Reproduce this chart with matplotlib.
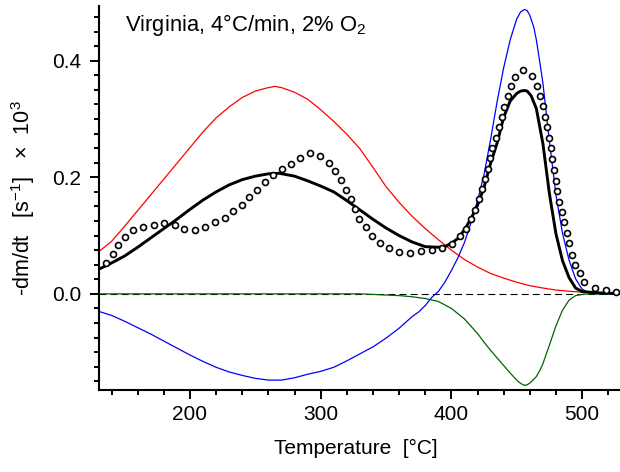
import matplotlib
matplotlib.use("Agg")
import matplotlib.pyplot as plt
from matplotlib.ticker import MultipleLocator, FormatStrFormatter

plt.rcParams['font.family'] = ['Liberation Sans', 'DejaVu Sans']
plt.rcParams['mathtext.fontset'] = 'custom'
plt.rcParams['mathtext.rm'] = 'Liberation Sans'
plt.rcParams['mathtext.it'] = 'Liberation Sans:italic'
plt.rcParams['mathtext.bf'] = 'Liberation Sans:bold'
plt.rcParams['lines.scale_dashes'] = False

# ---- data ----
red_T = [130, 140, 150, 160, 170, 180, 190, 200, 210, 220, 230, 240, 250, 260, 265, 270,
         280, 290, 300, 310, 320, 330, 340, 350, 360, 370, 380, 390, 400, 410, 420, 430,
         440, 450, 460, 470, 480, 490, 500, 510, 520, 529]
red_v = [0.072, 0.090, 0.116, 0.143, 0.170, 0.197, 0.224, 0.251, 0.278, 0.302, 0.321, 0.337,
         0.348, 0.354, 0.356, 0.354, 0.346, 0.334, 0.316, 0.296, 0.274, 0.249, 0.217, 0.184,
         0.157, 0.133, 0.112, 0.093, 0.075, 0.059, 0.046, 0.035, 0.027, 0.020, 0.014, 0.010,
         0.0065, 0.0045, 0.003, 0.002, 0.001, 0.0005]

blue_T = [130, 140, 150, 160, 170, 180, 190, 200, 210, 220, 230, 240, 250, 260, 270, 280,
          290, 300, 310, 320, 330, 340, 350, 360, 370, 375, 380, 385, 390, 395, 400, 405,
          410, 415, 420, 425, 430, 435, 440, 445, 450, 453, 456, 458, 460, 463, 465, 468,
          470, 475, 480, 485, 490, 495, 500, 505, 510, 520, 529]
blue_v = [-0.030, -0.037, -0.047, -0.058, -0.069, -0.081, -0.093, -0.105, -0.116, -0.126,
          -0.134, -0.140, -0.145, -0.148, -0.148, -0.144, -0.138, -0.133, -0.126, -0.115,
          -0.103, -0.091, -0.076, -0.059, -0.039, -0.031, -0.020, -0.006, 0.004, 0.020,
          0.040, 0.062, 0.088, 0.122, 0.160, 0.205, 0.265, 0.330, 0.388, 0.436, 0.472,
          0.484, 0.488, 0.486, 0.478, 0.458, 0.436, 0.392, 0.362, 0.262, 0.170, 0.104,
          0.058, 0.026, 0.008, 0.002, 0.0005, 0.0, 0.0]

green_T = [130, 200, 300, 330, 340, 350, 360, 370, 380, 390, 400, 410, 420, 425, 430, 435,
           440, 445, 450, 452, 454, 456, 458, 460, 462, 465, 468, 470, 475, 480, 485, 490,
           495, 500, 505, 510, 529]
green_v = [0.0, 0.0, 0.0, 0.0, -0.001, -0.002, -0.003, -0.005, -0.008, -0.013, -0.025,
           -0.043, -0.068, -0.083, -0.097, -0.110, -0.123, -0.136, -0.148, -0.152, -0.155,
           -0.157, -0.156, -0.153, -0.149, -0.142, -0.130, -0.120, -0.088, -0.055, -0.028,
           -0.011, -0.003, -0.001, 0.0, 0.0, 0.0]

black_T = [130, 140, 150, 160, 170, 180, 190, 200, 210, 220, 230, 240, 250, 260, 268, 280,
           290, 300, 310, 320, 330, 340, 350, 360, 370, 380, 390, 395, 400, 405, 410, 415,
           420, 425, 430, 435, 440, 445, 450, 453, 456, 458, 461, 465, 470, 475, 480, 485,
           490, 495, 500, 510, 520, 529]
black_v = [0.042, 0.053, 0.065, 0.080, 0.096, 0.112, 0.128, 0.145, 0.161, 0.175, 0.187,
           0.196, 0.202, 0.206, 0.207, 0.202, 0.194, 0.185, 0.175, 0.160, 0.144, 0.128,
           0.113, 0.100, 0.089, 0.081, 0.080, 0.081, 0.087, 0.095, 0.110, 0.129, 0.152,
           0.183, 0.224, 0.259, 0.303, 0.331, 0.344, 0.348, 0.349, 0.348, 0.340, 0.318,
           0.258, 0.172, 0.103, 0.057, 0.028, 0.010, 0.004, 0.002, 0.001, 0.0005]

circ_T = [135.8, 140.9, 145.2, 150.3, 156.4, 164.1, 172.3, 180.4, 188.5, 195.7, 203.9, 211.5,
          219.2, 226.8, 233.2, 239.6, 245.4, 251.3, 257.4, 263.8, 270.2, 277.3, 284.4, 291.6,
          299.5, 306.1, 310.9, 315.3, 319.1, 322.9, 326.0, 329.3, 334.5, 339.5, 345.4, 352.3,
          359.7, 368.4, 376.8, 385.0, 393.2, 400.5, 406.9, 411.0, 414.8, 418.1, 421.1, 423.7,
          425.7, 427.8, 429.6, 431.3, 433.9, 436.4, 438.5, 440.5, 443.1, 445.6, 448.7, 455.1,
          462.0, 465.5, 467.9, 469.9, 471.6, 473.4, 474.7, 476.0, 477.2, 478.5, 479.8, 481.1,
          482.6, 484.4, 486.2, 488.2, 490.0, 492.5, 494.6, 498.4, 501.7, 509.9, 518.1, 526.0]
circ_v = [0.053, 0.069, 0.084, 0.098, 0.109, 0.115, 0.119, 0.122, 0.119, 0.112, 0.110, 0.115,
          0.123, 0.131, 0.142, 0.153, 0.166, 0.179, 0.192, 0.204, 0.214, 0.223, 0.234, 0.241,
          0.237, 0.225, 0.211, 0.195, 0.179, 0.163, 0.146, 0.129, 0.114, 0.099, 0.087, 0.078,
          0.071, 0.070, 0.074, 0.075, 0.079, 0.086, 0.099, 0.112, 0.129, 0.144, 0.162, 0.180,
          0.197, 0.215, 0.233, 0.250, 0.268, 0.286, 0.303, 0.321, 0.339, 0.357, 0.373, 0.384,
          0.374, 0.357, 0.340, 0.323, 0.304, 0.286, 0.268, 0.250, 0.231, 0.213, 0.194, 0.176,
          0.158, 0.141, 0.123, 0.105, 0.087, 0.067, 0.050, 0.035, 0.020, 0.010, 0.007, 0.003]

title_text = 'Virginia, 4°C/min, 2% O$_2$'
xlabel_text = 'Temperature  [°C]'
ylabel_text = '-dm/dt   [s$^{\\mathrm{-1}}$]   ×  10$^{3}$'

# ---- figure ----
W, H = 620, 472
fig = plt.figure(figsize=(W / 100, H / 100), dpi=100)
ax = fig.add_axes([99 / W, 1 - 390 / H, 521 / W, 384 / H])

ax.axhline(0, color='black', lw=0.8, linestyle=(0, (5.0, 3.0)), zorder=1)
ax.plot(red_T, red_v, color='#ff0000', lw=0.9, zorder=2)
ax.plot(blue_T, blue_v, color='#0000ff', lw=0.9, zorder=2)
ax.plot(green_T, green_v, color='#006400', lw=0.9, zorder=3)
ax.plot(black_T, black_v, color='black', lw=2.1, zorder=4)
ax.plot(circ_T, circ_v, linestyle='none', marker='o', ms=4.3, mew=1.2,
        mec='black', mfc='white', zorder=5)

ax.set_xlim(130.4, 529)
ax.set_ylim(-0.165, 0.494)

for s in ['top', 'right']:
    ax.spines[s].set_visible(False)
for s in ['left', 'bottom']:
    ax.spines[s].set_linewidth(1.5)

ax.xaxis.set_major_locator(MultipleLocator(100))
ax.xaxis.set_minor_locator(MultipleLocator(20))
ax.yaxis.set_major_locator(MultipleLocator(0.2))
ax.yaxis.set_minor_locator(MultipleLocator(0.025))
ax.yaxis.set_major_formatter(FormatStrFormatter('%.1f'))
ax.tick_params(which='major', direction='out', length=6.2, width=1.4, labelsize=15)
ax.tick_params(which='minor', direction='out', length=3.3, width=1.4)
ax.tick_params(axis='x', which='major', pad=4.5)
ax.tick_params(axis='y', which='major', pad=6.5)

ax.set_xlabel(xlabel_text, fontsize=15)
ax.set_ylabel(ylabel_text, fontsize=15.5)
ax.xaxis.set_label_coords((355.5 - 99) / 521, -0.1266)
ax.yaxis.set_label_coords((37.5 - 99) / 521, 0.5)

fig.text(125 / W, 1 - 30.5 / H, title_text, fontsize=15.8, ha='left', va='baseline')

fig.savefig('out.png', dpi=100)
